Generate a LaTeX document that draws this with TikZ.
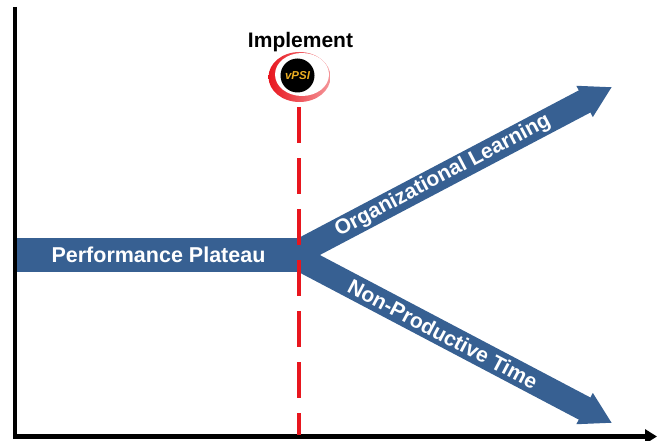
\documentclass[tikz,border=0pt]{standalone}
\usepackage{fontspec}
\setmainfont{Liberation Sans}
\usetikzlibrary{arrows.meta,calc}
\definecolor{barblue}{RGB}{55,96,146}
\definecolor{implred}{RGB}{232,22,30}
\definecolor{psigold}{RGB}{236,174,34}
\begin{document}
\begin{tikzpicture}[x=1pt,y=-1pt]
		\useasboundingbox (0,0) rectangle (658,441);
		\coordinate (top) at (15,7);
		\coordinate (origin) at (15,436.5);
		\coordinate (right) at (657,436.5);
		\coordinate (fork) at (293,255);
		\coordinate (upTip) at (612,87);
		\coordinate (downTip) at (612,423);
		\coordinate (dashTop) at (299,107);
		\coordinate (dashBot) at (299,435);
		% axes
		\draw [line width=4.2pt, -{Triangle[length=12pt,width=14pt]}] (top) -- (origin) -- (right);
		% branches
		\draw [barblue, line width=25pt, line join=miter, {Triangle[length=31pt,width=33pt]}-{Triangle[length=31pt,width=33pt]}] (upTip) -- (fork) -- (downTip);
		\begin{scope}[every node/.style={text=white, font=\bfseries\fontsize{21}{24}\selectfont, inner sep=0pt}]
			\node (plateau) [fill=barblue, minimum width=283pt, minimum height=34pt, font=\bfseries\fontsize{21.5}{24}\selectfont] at (158.5,255) {Performance Plateau};
			\node (learning) [rotate=27.8] at ($(fork)!0.47!(upTip)$) {Organizational Learning};
			\node (nonprod) [rotate=-27.8] at ($(fork)!0.47!(downTip)$) {Non-Productive Time};
		\end{scope}
		% implement marker
		\draw [implred, line width=4pt, dash pattern=on 36pt off 15pt] (dashTop) -- (dashBot);
		\shade [left color=implred, right color=implred!45] (299.5,77) ellipse [x radius=31, y radius=25];
		\fill [white] (302,74.5) ellipse [x radius=27, y radius=21.5];
		\node (logo) [circle, fill=black, minimum size=34pt, inner sep=0pt, text=psigold, font=\bfseries\itshape\fontsize{11.5}{12}\selectfont] at (297.5,75.5) {vPSI};
		\node (implement) [anchor=base, font=\bfseries\fontsize{21}{24}\selectfont] at (300.5,48) {Implement};
	\end{tikzpicture}
\end{document}
